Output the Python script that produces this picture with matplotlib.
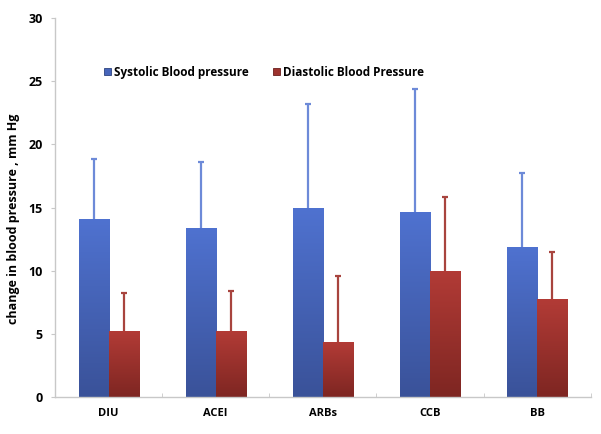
import numpy as np
import matplotlib
matplotlib.use('Agg')
import matplotlib.pyplot as plt
from matplotlib.colors import LinearSegmentedColormap

categories = ['DIU', 'ACEI', 'ARBs', 'CCB', 'BB']
systolic = [14.1, 13.4, 15.0, 14.65, 11.9]
systolic_err = [4.75, 5.2, 8.2, 9.75, 5.8]
diastolic = [5.2, 5.2, 4.35, 10.0, 7.75]
diastolic_err = [3.0, 3.2, 5.25, 5.8, 3.75]

plt.rcParams['font.family'] = ['Open Sans', 'DejaVu Sans']

fig = plt.figure(figsize=(6.01, 4.34), dpi=100)
ax = fig.add_axes([0.0915, 0.085, 0.8915, 0.8735])

x = np.arange(len(categories))
w = 0.28

blue_cm = LinearSegmentedColormap.from_list('b', ['#3a5299', '#4f72d0'])
red_cm = LinearSegmentedColormap.from_list('r', ['#7e2622', '#b23b36'])

def grad_bars(xs, vals, cmap, edge, label):
    bars = ax.bar(xs, vals, w, color=cmap(0.6), edgecolor=edge, linewidth=0.6,
                  label=label, zorder=2)
    for b in bars:
        x0, y0 = b.get_x(), b.get_y()
        im = ax.imshow(np.linspace(0, 1, 100).reshape(-1, 1), cmap=cmap,
                       extent=[x0, x0 + b.get_width(), y0, y0 + b.get_height()],
                       origin='lower', aspect='auto', zorder=2.5)
        im.set_clip_path(b)
    return bars

def up_err(xs, vals, errs, color):
    tops = np.array(vals) + np.array(errs)
    ax.vlines(xs, vals, tops, color=color, linewidth=1.6, zorder=1.5)
    ax.plot(xs, tops, linestyle='none', marker='_', markersize=4,
            markeredgewidth=1.6, color=color, zorder=1.5)

up_err(x - w / 2, systolic, systolic_err, '#6d8ad8')
up_err(x + w / 2, diastolic, diastolic_err, '#a8443e')

grad_bars(x - w / 2, systolic, blue_cm, '#2e447f', 'Systolic Blood pressure')
grad_bars(x + w / 2, diastolic, red_cm, '#6a1f1c', 'Diastolic Blood Pressure')

ax.set_xlim(-0.5, 4.5)
ax.set_ylim(0, 30)
ax.set_yticks(range(0, 31, 5))
ax.set_xticks(x)
ax.set_xticklabels(categories, fontweight='bold', fontsize=8)
for t in ax.get_yticklabels():
    t.set_fontweight('bold')
    t.set_fontsize(9)
ax.set_xticks(np.arange(0.5, 4.6, 1), minor=True)
ax.tick_params(axis='x', which='major', length=0, pad=8)
ax.tick_params(axis='x', which='minor', length=3, color='#c8c8c8', direction='in')
ax.tick_params(axis='y', length=3, color='#c8c8c8', pad=6)
ax.set_ylabel('change in blood pressure , mm Hg', fontweight='bold', fontsize=9)
ax.yaxis.set_label_coords(-0.065, 0.47)

for s in ['top', 'right']:
    ax.spines[s].set_visible(False)
for s in ['left', 'bottom']:
    ax.spines[s].set_color('#c8c8c8')
    ax.spines[s].set_linewidth(1.0)

leg = ax.legend(loc='center', bbox_to_anchor=(0.39, 0.857), ncol=2, frameon=False,
                handlelength=0.6, handleheight=0.6, handletextpad=0.3, columnspacing=2.0,
                prop={'size': 8.5, 'weight': 'bold'})

fig.savefig('out.png', dpi=100)
